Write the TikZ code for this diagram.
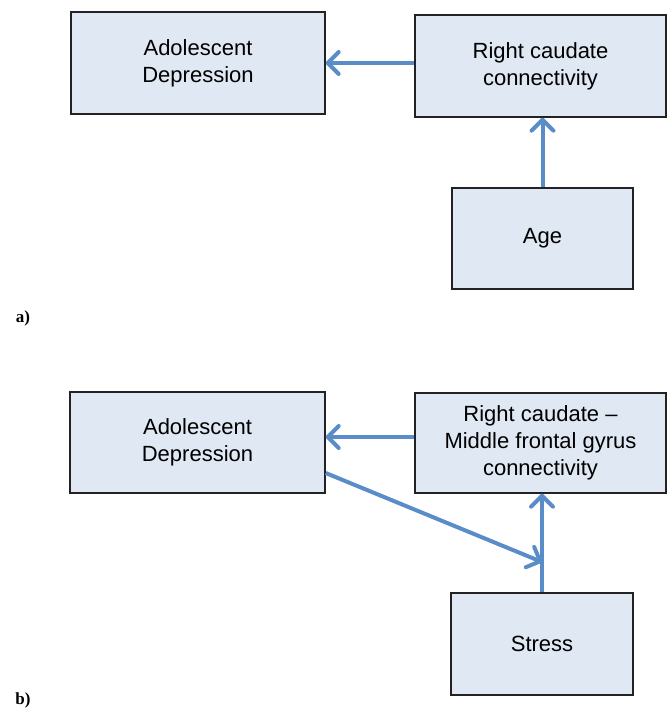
\documentclass[tikz,border=0pt]{standalone}
\usepackage{fontspec}
\setmainfont{Liberation Sans}
\newfontfamily\labfont{Liberation Serif}
\usetikzlibrary{arrows.meta,calc}
\definecolor{boxfill}{HTML}{E0E8F4}
\definecolor{arrowblue}{HTML}{5A8DC8}
\definecolor{boxline}{HTML}{222222}
\tikzset{
  mybox/.style={draw=boxline, line width=1.4pt, fill=boxfill, rectangle, align=center,
    inner sep=0pt, font=\fontsize{22}{27}\selectfont},
  myarrow/.style={draw=arrowblue, line width=4pt,
    -{Straight Barb[length=11pt,width=22pt,line cap=round,line join=round]}},
  panellabel/.style={font=\labfont\bfseries\fontsize{17}{20}\selectfont, inner sep=0pt}
}
\begin{document}
\begin{tikzpicture}[x=1pt,y=-1pt]
\useasboundingbox (0,0) rectangle (671,712);
% panel a
\node[mybox, minimum width=254pt, minimum height=102pt] (ada) at (198,63) {Adolescent\\Depression};
\node[mybox, minimum width=251pt, minimum height=102pt] (rca) at (540.5,66) {Right caudate\\connectivity};
\node[mybox, minimum width=181pt, minimum height=101pt] (age) at (542.5,238.5) {Age};
\draw[myarrow] (rca.west |- ada.east) -- (ada.east);
\draw[myarrow] (age.north) -- (age.north |- rca.south);
\node[panellabel] (la) at (23,318) {a)};
% panel b
\node[mybox, minimum width=255pt, minimum height=101pt] (adb) at (197.5,442.5) {Adolescent\\Depression};
\node[mybox, minimum width=251pt, minimum height=100pt] (rcb) at (540.5,443) {Right caudate –\\Middle frontal gyrus\\connectivity};
\node[mybox, minimum width=182pt, minimum height=102pt] (stress) at (542,644) {Stress};
\coordinate (j) at (542,562);
\draw[myarrow] (rcb.west |- 0,437) -- (adb.east |- 0,437);
\draw[myarrow] (stress.north) -- (stress.north |- rcb.south);
\draw[myarrow] ($(adb.east)+(0,30.5)$) -- (j);
\node[panellabel] (lb) at (23,700) {b)};
\end{tikzpicture}
\end{document}
